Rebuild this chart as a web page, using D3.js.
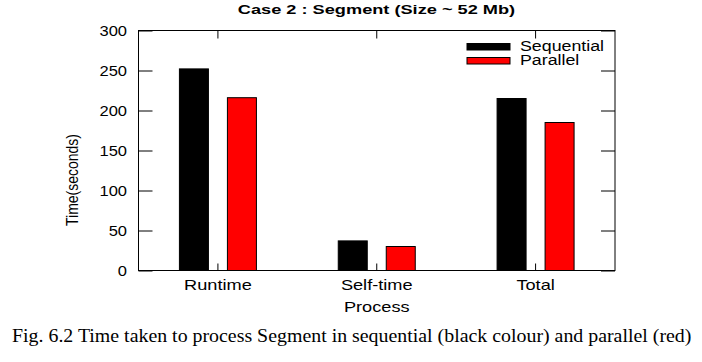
<!DOCTYPE html>
<html>
<head>
<meta charset="utf-8">
<script src="https://cdn.jsdelivr.net/npm/d3@7"></script>
<style>
  body { margin: 0; background: #fff; }
  svg { display: block; }
  text { font-family: Arial, "Liberation Sans", sans-serif; fill: #000; }
</style>
</head>
<body>
<svg width="702" height="362"></svg>
<script>
let categories = ["Runtime", "Self-time", "Total"];
let series = ["Sequential", "Parallel"];
let sequential = [252, 37, 215];
let parallel = [216, 30, 185];
let yTicks = [0, 50, 100, 150, 200, 250, 300];

let colors = { Sequential: "#000000", Parallel: "#ff0000" };

let svg = d3.select("svg");

let plotLeft = 138.5, plotRight = 615, plotTop = 30.5, plotBottom = 270.5;

let x = d3
  .scaleBand()
  .domain(categories)
  .range([plotLeft, plotRight])
  .paddingInner(0)
  .paddingOuter(0);

let sub = d3
  .scaleBand()
  .domain(series)
  .range([-39, 39])
  .paddingInner(0.375);

let y = d3
  .scaleLinear()
  .domain([0, 300])
  .range([plotBottom, plotTop]);

// horizontally stretched text, like the original export
function stretch(sel, sx, px, py) {
  sel.attr("transform", `translate(${px},${py}) scale(${sx},1)`);
}

// title
svg
  .append("text")
  .text("Case 2 : Segment (Size ~ 52 Mb)")
  .style("font-size", "13px")
  .style("font-weight", "bold")
  .attr("text-anchor", "middle")
  .call(stretch, 1.4, 376.5, 14);

// bars
let rows = categories.map((c, i) => ({
  cat: c,
  values: [
    { key: "Sequential", v: sequential[i] },
    { key: "Parallel", v: parallel[i] }
  ]
}));

let groups = svg
  .selectAll("g.cat")
  .data(rows)
  .enter()
  .append("g")
  .attr("class", "cat")
  .attr("transform", d => `translate(${x(d.cat) + x.bandwidth() / 2},0)`);

groups
  .selectAll("rect")
  .data(d => d.values)
  .enter()
  .append("rect")
  .attr("x", d => sub(d.key) + 0.5)
  .attr("width", sub.bandwidth() - 1)
  .attr("y", d => y(d.v))
  .attr("height", d => y(0) - y(d.v))
  .style("fill", d => colors[d.key])
  .style("stroke", "#000")
  .style("stroke-width", 1);

// frame
svg
  .append("rect")
  .attr("x", plotLeft)
  .attr("y", plotTop)
  .attr("width", plotRight - plotLeft)
  .attr("height", plotBottom - plotTop)
  .style("fill", "none")
  .style("stroke", "#000")
  .style("stroke-width", 1);

// y axis left (ticks inward) and right (ticks inward)
let yAxisL = d3
  .axisRight(y)
  .tickValues(yTicks)
  .tickSize(14)
  .tickFormat("");
svg
  .append("g")
  .attr("transform", `translate(${plotLeft},0)`)
  .call(yAxisL)
  .call(g => g.select(".domain").remove());

let yAxisR = d3
  .axisLeft(y)
  .tickValues(yTicks)
  .tickSize(14)
  .tickFormat("");
svg
  .append("g")
  .attr("transform", `translate(${plotRight},0)`)
  .call(yAxisR)
  .call(g => g.select(".domain").remove());

// x ticks top (down) and bottom (up)
svg
  .append("g")
  .attr("transform", `translate(0,${plotTop})`)
  .call(d3.axisBottom(x).tickSize(8).tickFormat(""))
  .call(g => g.select(".domain").remove());
svg
  .append("g")
  .attr("transform", `translate(0,${plotBottom})`)
  .call(d3.axisTop(x).tickSize(7).tickFormat(""))
  .call(g => g.select(".domain").remove());

svg.selectAll(".tick line").style("stroke", "#000").style("stroke-width", 1);

// y tick labels
svg
  .selectAll("text.ytick")
  .data(yTicks)
  .enter()
  .append("text")
  .attr("class", "ytick")
  .text(d => d)
  .style("font-size", "14px")
  .attr("text-anchor", "end")
  .each(function(d) {
    d3.select(this).call(stretch, 1.18, 127, y(d) + 5);
  });

// x category labels
svg
  .selectAll("text.xcat")
  .data(categories)
  .enter()
  .append("text")
  .attr("class", "xcat")
  .text(d => d)
  .style("font-size", "14px")
  .attr("text-anchor", "middle")
  .each(function(d) {
    d3.select(this).call(stretch, 1.3, x(d) + x.bandwidth() / 2, 290);
  });

// axis titles
svg
  .append("text")
  .text("Process")
  .style("font-size", "14px")
  .attr("text-anchor", "middle")
  .call(stretch, 1.3, x("Self-time") + x.bandwidth() / 2, 312);

svg
  .append("text")
  .text("Time(seconds)")
  .style("font-size", "14px")
  .attr("text-anchor", "middle")
  .attr("transform", "translate(78,180) scale(1.2,1) rotate(-90)");

// legend
let legend = svg
  .selectAll("g.legend")
  .data(series)
  .enter()
  .append("g")
  .attr("class", "legend")
  .attr("transform", (d, i) => `translate(0,${i * 14})`);

legend
  .append("rect")
  .attr("x", 467)
  .attr("y", 43.5)
  .attr("width", 43)
  .attr("height", 6.5)
  .style("fill", d => colors[d])
  .style("stroke", "#000")
  .style("stroke-width", 1);

legend
  .append("text")
  .text(d => d)
  .style("font-size", "14px")
  .call(stretch, 1.27, 520, 51);

// caption
svg
  .append("text")
  .text("Fig. 6.2 Time taken to process Segment in sequential (black colour) and parallel (red)")
  .style("font-family", "'Liberation Serif', 'Times New Roman', serif")
  .style("font-size", "18px")
  .call(stretch, 1.105, 12, 342);
</script>
</body>
</html>
